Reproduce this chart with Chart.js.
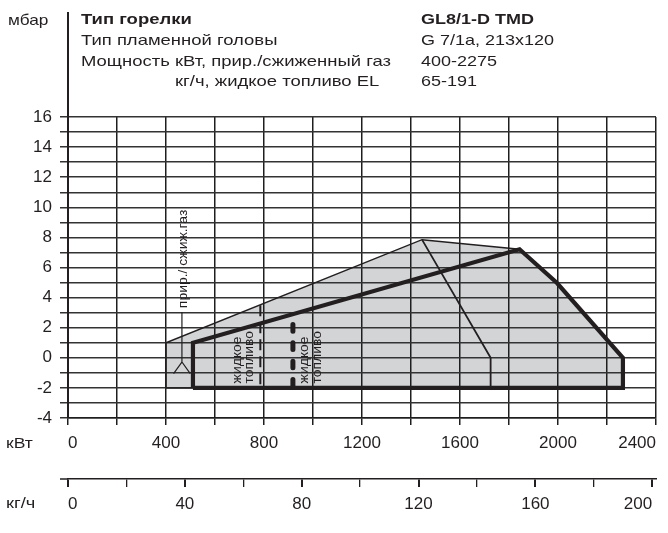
<!DOCTYPE html>
<html>
<head>
<meta charset="utf-8">
<script src="https://cdn.jsdelivr.net/npm/chart.js@4/dist/chart.umd.min.js"></script>
<style>
  html, body { margin: 0; padding: 0; background: #fff; }
  #app { width: 668px; height: 533px; position: relative; }
</style>
</head>
<body>
<div id="app"><canvas id="chart"></canvas></div>
<script>
const ink = "#231f20"
const family = "'Liberation Sans', Arial, Helvetica, sans-serif"

// gas working field (thin outline, grey fill), kW / mbar
const gasKw = [400, 400, 1445, 1843, 1996, 2265, 2265, 400]
const gasMbar = [-2, 1, 7.85, 7.21, 4.97, 0, -2, -2]

// heavy outline
const heavyKw = [510, 510, 1843, 1996, 2265, 2265, 510]
const heavyMbar = [-2, 1, 7.21, 4.97, 0, -2, -2]

// thin inner line from the peak
const innerKw = [1445, 1725, 1725]
const innerMbar = [7.85, 0, -2]

// oil limits (dashed verticals)
const oilMinKw = [785, 785]
const oilMinMbar = [3.5, -2]
const oilStageKw = [918, 918]
const oilStageMbar = [2.21, -1.88]

// leader for the gas label
const leaderKw = [465, 465, 431, 465, 499]
const leaderMbar = [3.04, -0.28, -1.05, -0.28, -1.05]

// tick labels
const kwLabels = [0, 400, 800, 1200, 1600, 2000, 2400]
const kghLabels = [0, 40, 80, 120, 160, 200]
const mbarLabels = [-4, -2, 0, 2, 4, 6, 8, 10, 12, 14, 16]

// header
const headerNames = ["Тип горелки", "Тип пламенной головы", "Мощность кВт, прир./сжиженный газ", "кг/ч, жидкое топливо EL"]
const headerValues = ["GL8/1-D TMD", "G 7/1a, 213x120", "400-2275", "65-191"]

// rotated notes inside the plot
const noteTexts = [["прир./ сжиж.газ"], ["жидкое", "топливо"], ["жидкое", "топливо"]]
const noteKw = [470, 715, 992]
const noteMbar = [3.3, -1.7, -1.7]

function points(xs, ys){
    return xs.map((x, i) => ({x: x, y: ys[i]}))
}

function line(xs, ys, extra){
    return Object.assign({
        data: points(xs, ys),
        showLine: true,
        pointRadius: 0,
        borderColor: ink,
        borderWidth: 1.5,
        fill: false,
        tension: 0
    }, extra)
}

// the print face is wider than Liberation Sans, so stretch it a bit
function wideText(ctx, text, x, y, sx){
    ctx.save()
    ctx.translate(x, y)
    ctx.scale(sx, 1)
    ctx.fillText(text, 0, 0)
    ctx.restore()
}

const headerPlugin = {
    id: "header",
    afterDraw(chart){
        const ctx = chart.ctx
        const area = chart.chartArea
        const kgh = chart.scales.kgh
        ctx.save()
        ctx.fillStyle = ink
        ctx.textBaseline = "alphabetic"
        ctx.font = "15px " + family
        wideText(ctx, "мбар", 8, 25, 1.15)

        ctx.strokeStyle = ink
        ctx.lineWidth = 2
        ctx.beginPath()
        ctx.moveTo(area.left, 12)
        ctx.lineTo(area.left, area.top)
        ctx.stroke()

        // kg/h axis line starts a little left of zero
        ctx.lineWidth = 1.5
        ctx.beginPath()
        ctx.moveTo(60, kgh.top)
        ctx.lineTo(area.left, kgh.top)
        ctx.stroke()

        const base = [24, 45, 65.5, 85.5]
        headerNames.forEach((t, i) => {
            ctx.font = (i === 0 ? "bold " : "") + "15px " + family
            wideText(ctx, t, i === 3 ? 175 : 81, base[i], 1.23)
        })
        headerValues.forEach((t, i) => {
            ctx.font = (i === 0 ? "bold " : "") + "15px " + family
            wideText(ctx, t, 421, base[i], 1.2)
        })

        ctx.font = "15px " + family
        ctx.textBaseline = "middle"
        wideText(ctx, "кВт", 6, chart.scales.x.top + 25.5, 1.17)
        wideText(ctx, "кг/ч", 6, kgh.top + 24.5, 1.22)

        // notes, rotated to read upward
        ctx.font = "13px " + family
        ctx.textAlign = "left"
        noteTexts.forEach((lines, n) => {
            const px = chart.scales.x.getPixelForValue(noteKw[n])
            const py = chart.scales.y.getPixelForValue(noteMbar[n])
            ctx.save()
            ctx.translate(px, py)
            ctx.rotate(-Math.PI / 2)
            lines.forEach((t, i) => {
                wideText(ctx, t, 0, (i - (lines.length - 1) / 2) * 12.5, 1.07)
            })
            ctx.restore()
        })
        ctx.restore()
    }
}

function main(){
    const canvas = document.getElementById("chart").getContext("2d")
    const tickFont = {family: family, size: 17}

    new Chart(canvas, {
        type: "scatter",
        data: {
            datasets: [
                line(gasKw, gasMbar, {fill: "shape", backgroundColor: "#d2d4d6", borderWidth: 1.5}),
                line(heavyKw, heavyMbar, {borderWidth: 4.2, borderJoinStyle: "miter"}),
                line(innerKw, innerMbar, {borderWidth: 1.8}),
                line(oilMinKw, oilMinMbar, {borderWidth: 2, borderDash: [11, 6]}),
                line(oilStageKw, oilStageMbar, {borderWidth: 5, borderDash: [6.7, 11.6], borderCapStyle: "round"}),
                line(leaderKw, leaderMbar, {borderWidth: 1.2})
            ]
        },
        options: {
            responsive: true,
            maintainAspectRatio: false,
            animation: false,
            layout: {padding: {top: 117, left: 0, right: 12, bottom: 14}},
            plugins: {
                legend: {display: false},
                tooltip: {enabled: false},
                filler: {drawTime: "beforeDraw"}
            },
            scales: {
                x: {
                    type: "linear",
                    position: "bottom",
                    weight: 1,
                    min: 0,
                    max: 2400,
                    afterFit: s => { s.height = 61 },
                    grid: {color: "#1e1e1e", lineWidth: 1.5, tickLength: 7},
                    border: {color: "#1e1e1e", width: 1.5},
                    ticks: {
                        stepSize: 200, autoSkip: false, maxRotation: 0, align: "inner",
                        padding: 8, color: ink, font: tickFont,
                        callback: v => kwLabels.includes(v) ? String(v) : ""
                    }
                },
                kgh: {
                    type: "linear",
                    position: "bottom",
                    weight: 2,
                    min: 0,
                    max: 201.3,
                    afterFit: s => { s.height = 40 },
                    grid: {
                        drawOnChartArea: false, color: ink, tickLength: 8,
                        lineWidth: c => (c.tick && c.tick.value % 40 === 0) ? 2 : 1.3
                    },
                    border: {color: ink, width: 1.5},
                    ticks: {
                        stepSize: 20, includeBounds: false, autoSkip: false, maxRotation: 0, align: "inner",
                        padding: 7, color: ink, font: tickFont,
                        callback: v => kghLabels.includes(v) ? String(v) : ""
                    }
                },
                y: {
                    type: "linear",
                    min: -4,
                    max: 16,
                    afterFit: s => { s.width = 68 },
                    grid: {color: "#333", lineWidth: 1.5, tickLength: 8},
                    border: {color: ink, width: 2},
                    ticks: {
                        stepSize: 1, autoSkip: false, padding: 8, color: ink, font: tickFont,
                        callback: v => mbarLabels.includes(v) ? String(v) : ""
                    }
                }
            }
        },
        plugins: [headerPlugin]
    })
}

main()
</script>
</body>
</html>
